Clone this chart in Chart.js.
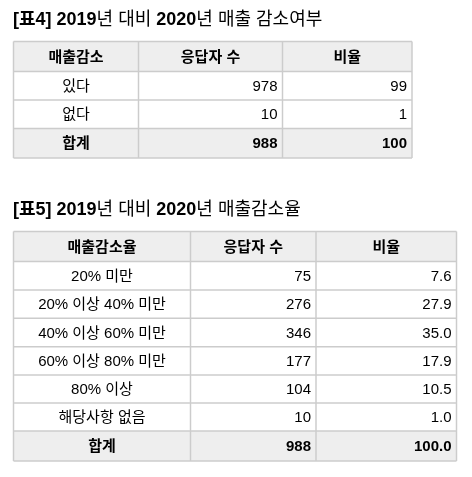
<!DOCTYPE html>
<html><head><meta charset="utf-8">
<script src="https://cdn.jsdelivr.net/npm/chart.js@4"></script>
<style>html,body{margin:0;padding:0;background:#fff}</style>
</head><body>
<canvas id="c" width="472" height="477"></canvas>
<script>
const title1 = ["[표4] 2019", "년 대비 ", "2020", "년 매출 감소여부"];
const header1 = ["매출감소", "응답자 수", "비율"];
const categories1 = ["있다", "없다"];
const counts1 = [978, 10];
const ratios1 = ["99", "1"];
const total1 = ["합계", "988", "100"];

const title2 = ["[표5] 2019", "년 대비 ", "2020", "년 매출감소율"];
const header2 = ["매출감소율", "응답자 수", "비율"];
const categories2 = ["20% 미만", "20% 이상 40% 미만", "40% 이상 60% 미만", "60% 이상 80% 미만", "80% 이상", "해당사항 없음"];
const counts2 = [75, 276, 346, 177, 104, 10];
const ratios2 = ["7.6", "27.9", "35.0", "17.9", "10.5", "1.0"];
const total2 = ["합계", "988", "100.0"];

const FONT = "Arial, 'Noto Sans CJK KR', sans-serif";
const layouts = [
  {title: title1, ty: 20, cols: [13.5, 138.5, 282.5, 412], rows: [41.5, 71.5, 100, 128.5, 158],
   header: header1, cats: categories1, counts: counts1, ratios: ratios1, total: total1},
  {title: title2, ty: 210, cols: [13.5, 190.5, 316, 456.5], rows: [231.5, 261.5, 290, 318.3, 346.7, 375, 403, 431, 461],
   header: header2, cats: categories2, counts: counts2, ratios: ratios2, total: total2}
];

const tablePlugin = {
  id: 'tables',
  afterDraw(chart) {
    const ctx = chart.ctx, xs = chart.scales.x, ys = chart.scales.y;
    const X = v => xs.getPixelForValue(v), Y = v => ys.getPixelForValue(v);
    ctx.save();
    layouts.forEach(L => {
      let x = X(13);
      ctx.textBaseline = 'middle'; ctx.textAlign = 'left'; ctx.fillStyle = '#000';
      L.title.forEach((s, i) => {
        ctx.font = (i % 2 === 0 ? 'bold ' : '') + '18px ' + FONT;
        ctx.fillText(s, x, Y(L.ty)); x += ctx.measureText(s).width;
      });
      const r = L.rows, c = L.cols, n = r.length - 1;
      ctx.fillStyle = '#eeeeee';
      ctx.fillRect(X(c[0]), Y(r[0]), X(c[3]) - X(c[0]), Y(r[1]) - Y(r[0]));
      ctx.fillRect(X(c[0]), Y(r[n - 1]), X(c[3]) - X(c[0]), Y(r[n]) - Y(r[n - 1]));
      ctx.strokeStyle = '#cccccc'; ctx.lineWidth = 1.5;
      r.forEach(v => { ctx.beginPath(); ctx.moveTo(X(c[0]), Y(v)); ctx.lineTo(X(c[3]), Y(v)); ctx.stroke(); });
      c.forEach(v => { ctx.beginPath(); ctx.moveTo(X(v), Y(r[0])); ctx.lineTo(X(v), Y(r[n])); ctx.stroke(); });
      const mid = i => (Y(r[i]) + Y(r[i + 1])) / 2;
      const cellRow = (vals, i, bold) => {
        ctx.fillStyle = '#000';
        ctx.font = (bold ? 'bold ' : '') + '15px ' + FONT;
        ctx.textAlign = 'center'; ctx.fillText(vals[0], (X(c[0]) + X(c[1])) / 2, mid(i) + 1);
        ctx.textAlign = bold === 'h' ? 'center' : 'right';
        if (bold === 'h') {
          ctx.fillText(vals[1], (X(c[1]) + X(c[2])) / 2, mid(i) + 1);
          ctx.fillText(vals[2], (X(c[2]) + X(c[3])) / 2, mid(i) + 1);
        } else {
          ctx.fillText(String(vals[1]), X(c[2]) - 5, mid(i) + 1);
          ctx.fillText(String(vals[2]), X(c[3]) - 5, mid(i) + 1);
        }
      };
      cellRow(L.header, 0, 'h');
      L.cats.forEach((k, i) => cellRow([k, L.counts[i], L.ratios[i]], i + 1, false));
      cellRow(L.total, n - 1, true);
    });
    ctx.restore();
  }
};

new Chart(document.getElementById('c'), {
  type: 'scatter',
  data: {datasets: [{data: []}]},
  options: {
    responsive: false, animation: false,
    layout: {padding: 0},
    plugins: {legend: {display: false}, tooltip: {enabled: false}},
    scales: {
      x: {type: 'linear', min: 0, max: 472, display: false},
      y: {type: 'linear', min: 0, max: 477, reverse: true, display: false}
    }
  },
  plugins: [tablePlugin]
});
</script>
</body></html>
